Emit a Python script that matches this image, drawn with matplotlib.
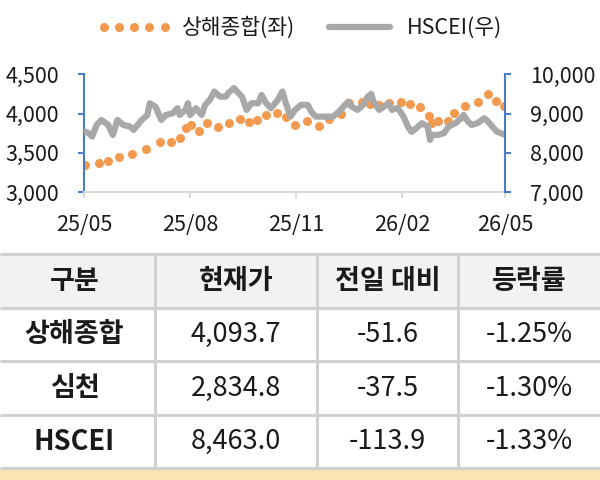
import numpy as np
import pandas as pd
import matplotlib
import matplotlib.pyplot as plt
import matplotlib.dates as mdates
from matplotlib.ticker import FuncFormatter

matplotlib.use('Agg')
plt.rcParams['font.family'] = ['Noto Sans CJK KR', 'DejaVu Sans']

# 상해종합 (좌축)
sh_dates = ['2025-05-02', '2025-05-14', '2025-05-22', '2025-05-31', '2025-06-12', '2025-06-24',
            '2025-07-06', '2025-07-15', '2025-07-23', '2025-07-28', '2025-08-02', '2025-08-09',
            '2025-08-16', '2025-08-25', '2025-09-04', '2025-09-13', '2025-09-21', '2025-09-28',
            '2025-10-06', '2025-10-15', '2025-10-23', '2025-10-31', '2025-11-10', '2025-11-21',
            '2025-11-29', '2025-12-10', '2025-12-17', '2025-12-28', '2026-01-04', '2026-01-12',
            '2026-01-20', '2026-01-31', '2026-02-08', '2026-02-16', '2026-02-24', '2026-02-27',
            '2026-03-04', '2026-03-13', '2026-03-18', '2026-03-27', '2026-04-08', '2026-04-16',
            '2026-04-23', '2026-04-30']
sh_values = [3350, 3375, 3401, 3452, 3486, 3550, 3635, 3635, 3693, 3821, 3855, 3782,
             3877, 3826, 3877, 3935, 3897, 3919, 3982, 4011, 3961, 3855, 3910, 3846,
             3927, 3991, 4131, 4144, 4122, 4109, 4131, 4144, 4118, 4088, 3973, 3877,
             3910, 3906, 4011, 4097, 4144, 4249, 4164, 4094]

# HSCEI (우축)
hs_dates = ['2025-05-02', '2025-05-05', '2025-05-08', '2025-05-12', '2025-05-16', '2025-05-22',
            '2025-05-26', '2025-05-30', '2025-06-04', '2025-06-10', '2025-06-13', '2025-06-20',
            '2025-06-25', '2025-06-27', '2025-07-02', '2025-07-07', '2025-07-11', '2025-07-17',
            '2025-07-21', '2025-07-23', '2025-07-28', '2025-07-30', '2025-08-01', '2025-08-06',
            '2025-08-11', '2025-08-14', '2025-08-18', '2025-08-22', '2025-08-27', '2025-09-01',
            '2025-09-03', '2025-09-08', '2025-09-12', '2025-09-15', '2025-09-19', '2025-09-23',
            '2025-09-29', '2025-10-02', '2025-10-06', '2025-10-10', '2025-10-16', '2025-10-20',
            '2025-10-23', '2025-10-27', '2025-10-31', '2025-11-05', '2025-11-11', '2025-11-14',
            '2025-11-18', '2025-11-24', '2025-12-03', '2025-12-08', '2025-12-12', '2025-12-16',
            '2025-12-19', '2025-12-24', '2025-12-29', '2026-01-02', '2026-01-05', '2026-01-07',
            '2026-01-12', '2026-01-16', '2026-01-20', '2026-01-23', '2026-01-28', '2026-02-02',
            '2026-02-06', '2026-02-09', '2026-02-13', '2026-02-18', '2026-02-23', '2026-02-25',
            '2026-02-27', '2026-03-04', '2026-03-09', '2026-03-13', '2026-03-19', '2026-03-24',
            '2026-03-26', '2026-03-30', '2026-04-02', '2026-04-07', '2026-04-13', '2026-04-15',
            '2026-04-20', '2026-04-24', '2026-04-30']
hs_values = [8540, 8499, 8412, 8710, 8837, 8710, 8455, 8837, 8710, 8667, 8583, 8837,
             8964, 9262, 9176, 8837, 8964, 9008, 9135, 8964, 9092, 9262, 8964, 9135,
             8964, 9219, 9346, 9560, 9430, 9430, 9520, 9650, 9520, 9430, 9092, 9262,
             9262, 9473, 9262, 9135, 9346, 9560, 9262, 8921, 9092, 9219, 9219, 9048,
             8921, 8921, 8921, 9048, 9176, 9303, 9176, 9092, 9219, 9430, 9500, 9303,
             9092, 9176, 9262, 9092, 9143, 8921, 8659, 8532, 8626, 8753, 8667, 8328,
             8455, 8455, 8499, 8667, 8753, 8880, 8964, 8794, 8710, 8753, 8880, 8837,
             8667, 8540, 8463]

x_ticks = ['2025-05-01', '2025-08-01', '2025-11-01', '2026-02-01', '2026-05-01']
sh_ticks = [3000, 3500, 4000, 4500]
hs_ticks = [7000, 8000, 9000, 10000]

# 표
headers = ['구분', '현재가', '전일 대비', '등락률']
names = ['상해종합', '심천', 'HSCEI']
prices = [4093.7, 2834.8, 8463.0]
changes = [-51.6, -37.5, -113.9]
rates = [-1.25, -1.30, -1.33]

ORANGE = '#F29A50'
GRAY = '#A8A8A8'
BLUE = '#4A7CC6'
LINE = '#D0D0D0'
TEXT = '#1A1A1A'

fig = plt.figure(figsize=(6, 4.8), dpi=100)

# 표 (픽셀 좌표)
tab = fig.add_axes([0, 0, 1, 1])
tab.set_xlim(0, 600)
tab.set_ylim(480, 0)
tab.axis('off')
tab.set_zorder(-1)

row_edges = [254, 307.5, 361, 415, 468]
col_edges = [0, 155, 317, 458, 600]
tab.add_patch(plt.Rectangle((0, row_edges[0]), 600, row_edges[1] - row_edges[0],
                            facecolor='#F2F2F2', edgecolor='none'))
tab.add_patch(plt.Rectangle((0, 470), 600, 12, facecolor='#FBE3B2', edgecolor='none'))
for y in row_edges:
    tab.plot([0, 600], [y, y], color=LINE, lw=2.2, solid_capstyle='butt')
for x in col_edges[1:-1]:
    tab.plot([x, x], [row_edges[0], row_edges[-1]], color=LINE, lw=2.2, solid_capstyle='butt')

col_mid = [(col_edges[i] + col_edges[i + 1]) / 2 for i in range(4)]
col_mid[0] -= 3
row_mid = [(row_edges[i] + row_edges[i + 1]) / 2 for i in range(4)]
for j, h in enumerate(headers):
    tab.text(col_mid[j], row_mid[0], h, ha='center', va='center', fontsize=19.5,
             fontweight='bold', color=TEXT)
for i in range(3):
    cells = [names[i], f'{prices[i]:,.1f}', f'{changes[i]:.1f}', f'{rates[i]:.2f}%']
    for j, c in enumerate(cells):
        tab.text(col_mid[j], row_mid[i + 1], c, ha='center', va='center', fontsize=19.5,
                 fontweight='bold' if j == 0 else 'normal', color=TEXT)

# 차트
ax = fig.add_axes([84 / 600, 1 - 192 / 480, (505 - 84) / 600, (192 - 74.3) / 480])
ax.patch.set_alpha(0)
ax2 = ax.twinx()

h1, = ax.plot(pd.to_datetime(sh_dates), sh_values, linestyle='none', marker='o',
              markersize=6.5, color=ORANGE, markeredgewidth=0)
h2, = ax2.plot(pd.to_datetime(hs_dates), hs_values, color=GRAY, lw=4.5,
               solid_joinstyle='round', solid_capstyle='round')

ax.set_xlim(pd.Timestamp('2025-05-01'), pd.Timestamp('2026-05-01'))
ax.set_ylim(3000, 4500)
ax2.set_ylim(7000, 10000)
ax.set_xticks(pd.to_datetime(x_ticks))
ax.xaxis.set_major_formatter(mdates.DateFormatter('%y/%m'))
ax.set_yticks(sh_ticks)
ax2.set_yticks(hs_ticks)
fmt = FuncFormatter(lambda v, p: f'{v:,.0f}')
ax.yaxis.set_major_formatter(fmt)
ax2.yaxis.set_major_formatter(fmt)

for a in (ax, ax2):
    a.spines['top'].set_visible(False)
ax.spines['right'].set_visible(False)
ax2.spines['left'].set_visible(False)
ax2.spines['bottom'].set_visible(False)
ax.spines['left'].set_color(BLUE)
ax.spines['left'].set_linewidth(1.5)
ax2.spines['right'].set_color(BLUE)
ax2.spines['right'].set_linewidth(1.5)
ax.spines['bottom'].set_color('#D9D9D9')
ax.spines['bottom'].set_linewidth(1.5)

ax.tick_params(axis='y', colors=BLUE, labelcolor=TEXT, length=4, width=1.5,
               pad=14, labelsize=15.5)
ax2.tick_params(axis='y', colors=BLUE, labelcolor=TEXT, length=4, width=1.5,
                pad=14, labelsize=15.5)
ax.tick_params(axis='x', colors='#D9D9D9', labelcolor=TEXT, length=4, width=1.5,
               pad=12, labelsize=15.5)

fig.legend([h1, h2], ['상해종합(좌)', 'HSCEI(우)'], loc='center', bbox_to_anchor=(0.5, 1 - 28 / 480),
           ncol=2, frameon=False, fontsize=15.5, numpoints=5, handlelength=3.4,
           handletextpad=0.5, columnspacing=1.3, labelcolor=TEXT)

fig.savefig('out.png', dpi=100)
